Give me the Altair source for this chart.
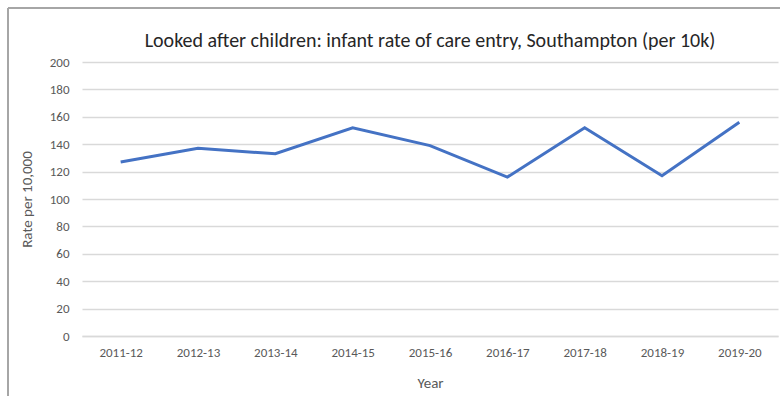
import altair as alt
import pandas as pd

# Infant rate of entry into care, Southampton, per 10,000
years = ["2011-12", "2012-13", "2013-14", "2014-15", "2015-16",
         "2016-17", "2017-18", "2018-19", "2019-20"]
rates = [127, 137, 133, 152, 139, 116, 152, 117, 156]
y_ticks = [0, 20, 40, 60, 80, 100, 120, 140, 160, 180, 200]
title_text = ["Looked after children: infant rate of care entry, Southampton (per 10k)"]

df = pd.DataFrame({"Year": years, "Rate": rates})
title_df = pd.DataFrame({"t": title_text})

FONT = "Carlito, Lato, sans-serif"
TEXT = "#595959"
GRID = "#d9d9d9"
FRAME = "#a6a6a6"

W, H = 696, 274
PAD_L, PAD_T = 82, 62

line = alt.Chart(df).mark_line(color="#4472C4", strokeWidth=3).encode(
    x=alt.X("Year:N", sort=years, title="Year",
            scale=alt.Scale(paddingInner=0, paddingOuter=0.5),
            axis=alt.Axis(labelAngle=0, ticks=False, domainColor=GRID,
                          domainWidth=1.5, labelPadding=10, titlePadding=16,
                          labelFontSize=13, titleFontSize=15,
                          titleFontWeight="normal")),
    y=alt.Y("Rate:Q", title="Rate per 10,000",
            scale=alt.Scale(domain=[0, 200]),
            axis=alt.Axis(values=y_ticks, ticks=False, domain=False,
                          gridColor=GRID, gridWidth=1.5, labelPadding=13,
                          titlePadding=15, labelFontSize=13, titleFontSize=15,
                          titleFontWeight="normal")),
)

# chart title, centred over the plot
title = alt.Chart(title_df).mark_text(
    font=FONT, fontSize=20, color="#262626", align="center", baseline="middle",
    clip=False,
).encode(text="t:N", x=alt.value(W / 2), y=alt.value(-21))

# outer chart frame (left and top edges)
frame_left = alt.Chart(df).mark_rule(color=FRAME, strokeWidth=2, clip=False).encode(
    x=alt.value(-74), y=alt.value(-54), y2=alt.value(340)
)
frame_top = alt.Chart(df).mark_rule(color=FRAME, strokeWidth=2, clip=False).encode(
    x=alt.value(-74), x2=alt.value(700), y=alt.value(-54)
)

chart = (
    alt.layer(frame_left, frame_top, line, title)
    .properties(
        width=W, height=H,
        autosize=alt.AutoSizeParams(type="none"),
        padding={"left": PAD_L, "top": PAD_T, "right": 2, "bottom": 60},
    )
    .configure(font=FONT, background="white")
    .configure_axis(labelColor=TEXT, titleColor=TEXT, labelFont=FONT, titleFont=FONT)
    .configure_view(stroke=None)
)

chart.save("out.html", embed_options={"renderer": "svg", "actions": False})
